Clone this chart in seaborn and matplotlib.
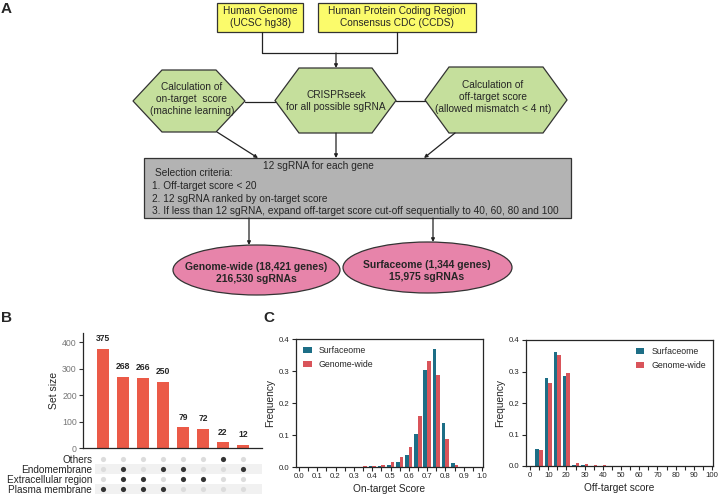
import numpy as np
import pandas as pd
import matplotlib
matplotlib.use("Agg")
import matplotlib.pyplot as plt
from matplotlib.patches import Polygon, Rectangle, Ellipse
import seaborn as sns

# ---------------- data ----------------
# Panel B (UpSet)
set_names = ["Others", "Endomembrane", "Extracellular region", "Plasma membrane"]
set_sizes = [375, 268, 266, 250, 79, 72, 22, 12]
combo_members = [
    ["Plasma membrane"],
    ["Endomembrane", "Extracellular region", "Plasma membrane"],
    ["Extracellular region", "Plasma membrane"],
    ["Endomembrane", "Plasma membrane"],
    ["Endomembrane", "Extracellular region"],
    ["Extracellular region"],
    ["Others"],
    ["Endomembrane"],
]

# Panel C left: on-target score
on_bins = [0.35, 0.40, 0.45, 0.50, 0.55, 0.60, 0.65, 0.70, 0.75, 0.80, 0.85]
on_surface = [0.001, 0.002, 0.004, 0.007, 0.016, 0.036, 0.104, 0.304, 0.370, 0.136, 0.013]
on_genome = [0.002, 0.004, 0.007, 0.015, 0.030, 0.064, 0.158, 0.330, 0.287, 0.086, 0.007]

# Panel C right: off-target score
off_bins = [5, 10, 15, 20, 25, 30, 35, 40, 45, 50, 55, 60, 65, 70, 75, 80, 85, 90, 95, 100]
off_surface = [0.055, 0.280, 0.361, 0.286, 0.003, 0.002, 0.001, 0.001, 0.0005, 0.0005,
               0.0005, 0.0005, 0.0004, 0.0004, 0.0004, 0.0003, 0.0003, 0.0003, 0.0003, 0.0003]
off_genome = [0.050, 0.262, 0.351, 0.295, 0.008, 0.005, 0.003, 0.002, 0.001, 0.001,
              0.0008, 0.0007, 0.0006, 0.0006, 0.0005, 0.0005, 0.0004, 0.0004, 0.0004, 0.0004]
series_names = ["Surfaceome", "Genome-wide"]

# Panel A texts
box1_text = "Human Genome\n(UCSC hg38)"
box2_text = "Human Protein Coding Region\nConsensus CDC (CCDS)"
hex_left_text = "Calculation of\non-target  score\n(machine learning)"
hex_mid_text = "CRISPRseek\nfor all possible sgRNA"
hex_right_text = "Calculation of\noff-target score\n(allowed mismatch < 4 nt)"
gray_title = "12 sgRNA for each gene"
gray_lines = ["Selection criteria:",
              "1. Off-target score < 20",
              "2. 12 sgRNA ranked by on-target score",
              "3. If less than 12 sgRNA, expand off-target score cut-off sequentially to 40, 60, 80 and 100"]
ell_left_text = "Genome-wide (18,421 genes)\n216,530 sgRNAs"
ell_right_text = "Surfaceome (1,344 genes)\n15,975 sgRNAs"

# ---------------- style ----------------
sns.set_theme(style="ticks")
plt.rcParams["font.family"] = ["Liberation Sans", "DejaVu Sans"]
plt.rcParams["axes.linewidth"] = 0.9
plt.rcParams["xtick.major.width"] = 0.8
plt.rcParams["ytick.major.width"] = 0.8
plt.rcParams["xtick.minor.width"] = 0.8

W, H = 721, 497
fig = plt.figure(figsize=(W / 100, H / 100), dpi=100)
fig.patch.set_facecolor("white")


def rect(x0, y0, x1, y1):
    return [x0 / W, 1 - y1 / H, (x1 - x0) / W, (y1 - y0) / H]


# ---------------- Panel A (flowchart) ----------------
ax0 = fig.add_axes([0, 0, 1, 1])
ax0.set_xlim(0, W)
ax0.set_ylim(H, 0)
ax0.axis("off")

YELLOW = "#fbfb6b"
GREEN = "#c5df9c"
GRAY = "#b3b3b3"
PINK = "#e784aa"
EDGE = "#333333"
fs = 7.3

ax0.add_patch(Rectangle((217, 3), 86, 29, facecolor=YELLOW, edgecolor=EDGE, lw=0.9))
ax0.add_patch(Rectangle((318, 3), 158, 29, facecolor=YELLOW, edgecolor=EDGE, lw=0.9))
ax0.text(260, 17.5, box1_text, ha="center", va="center", fontsize=fs, linespacing=1.25)
ax0.text(397, 17.5, box2_text, ha="center", va="center", fontsize=fs, linespacing=1.25)

lc = "#222222"
ax0.plot([262, 262, 397, 397], [32, 53, 53, 32], color=lc, lw=0.9)


def arrow(p0, p1):
    ax0.annotate("", xy=p1, xytext=p0,
                 arrowprops=dict(arrowstyle="-|>", color=lc, lw=0.9,
                                 mutation_scale=5, shrinkA=0, shrinkB=0))


arrow((336, 53), (336, 68))


def hexagon(cx, cy, w, h, inset, **kw):
    pts = [(cx - w / 2, cy), (cx - w / 2 + inset, cy - h / 2), (cx + w / 2 - inset, cy - h / 2),
           (cx + w / 2, cy), (cx + w / 2 - inset, cy + h / 2), (cx - w / 2 + inset, cy + h / 2)]
    ax0.add_patch(Polygon(pts, closed=True, **kw))


# hex connectors
ax0.plot([245, 275], [101.5, 101.5], color=lc, lw=0.9)
ax0.plot([396, 425], [100.5, 100.5], color=lc, lw=0.9)

hexagon(189, 101, 112, 62, 29, facecolor=GREEN, edgecolor=EDGE, lw=0.9)
hexagon(335.5, 100.5, 121, 65, 24, facecolor=GREEN, edgecolor=EDGE, lw=0.9)
hexagon(496, 100, 142, 66, 24, facecolor=GREEN, edgecolor=EDGE, lw=0.9)
ax0.text(192, 98.5, hex_left_text, ha="center", va="center", fontsize=fs, linespacing=1.25)
ax0.text(336, 100.5, hex_mid_text, ha="center", va="center", fontsize=fs, linespacing=1.25)
ax0.text(493, 97, hex_right_text, ha="center", va="center", fontsize=fs, linespacing=1.25)

arrow((217, 132), (258, 158))
arrow((336, 133), (336, 158))
arrow((455, 133), (424, 158))

ax0.add_patch(Rectangle((144, 158), 427, 60, facecolor=GRAY, edgecolor=EDGE, lw=0.9))
ax0.text(263, 166, gray_title, ha="left", va="center", fontsize=fs)
for i, (ln, yy) in enumerate(zip(gray_lines, [173.5, 186, 198.5, 211])):
    ax0.text(155 if i == 0 else 152, yy, ln, ha="left", va="center", fontsize=fs)

arrow((249, 218), (249, 245))
arrow((433, 218), (433, 242))

ax0.add_patch(Ellipse((256.5, 270), 167, 50, facecolor=PINK, edgecolor=EDGE, lw=0.9))
ax0.add_patch(Ellipse((427.5, 267.5), 169, 51, facecolor=PINK, edgecolor=EDGE, lw=0.9))
ax0.text(256, 273, ell_left_text, ha="center", va="center", fontsize=7.5,
         fontweight="bold", linespacing=1.2)
ax0.text(427, 271, ell_right_text, ha="center", va="center", fontsize=7.5,
         fontweight="bold", linespacing=1.2)

# Panel letters
ax0.text(1, 2, "A", ha="left", va="top", fontsize=11, fontweight="bold")
ax0.text(1, 311, "B", ha="left", va="top", fontsize=11, fontweight="bold")
ax0.text(263, 311, "C", ha="left", va="top", fontsize=11, fontweight="bold")

# ---------------- Panel B (UpSet) ----------------
BAR_RED = "#eb5a47"
combo_ids = [f"c{i}" for i in range(len(set_sizes))]
axb = fig.add_axes(rect(83, 333, 262, 448))
sns.barplot(x=combo_ids, y=set_sizes, color=BAR_RED, width=0.6, linewidth=0,
            errorbar=None, ax=axb, saturation=1)
axb.set_xlim(-1.0, 7.95)
axb.set_ylim(0, 434)
axb.set_yticks([0, 100, 200, 300, 400])
axb.set_xticks([])
axb.tick_params(axis="y", labelsize=6.3, labelcolor="#777777", length=3, color="#333333", pad=1.5)
axb.set_ylabel("Set size", fontsize=7.5, labelpad=2)
sns.despine(ax=axb)
axb.bar_label(axb.containers[0], fontsize=6.2, fontweight="bold", padding=4)

# matrix
axm = fig.add_axes(rect(95, 454, 262, 494))
mat_rows = []
for ci, mem in enumerate(combo_members):
    for ri, nm in enumerate(set_names):
        mat_rows.append({"col": ci, "row": ri, "present": nm in mem})
mat_df = pd.DataFrame(mat_rows)
for ri in [1, 3]:
    axm.axhspan(ri - 0.5, ri + 0.5, color="#f1f1f1", zorder=0, lw=0)
sns.scatterplot(data=mat_df[~mat_df.present], x="col", y="row", color="#dcdcdc",
                s=14, linewidth=0, ax=axm, zorder=2)
sns.scatterplot(data=mat_df[mat_df.present], x="col", y="row", color="#333333",
                s=14, linewidth=0, ax=axm, zorder=3)
axm.set_xlim(-0.4, 7.95)
axm.set_ylim(3.5, -0.5)
axm.set_yticks(range(len(set_names)))
axm.set_yticklabels(set_names)
axm.tick_params(axis="y", length=0, labelsize=7.2, pad=2)
axm.set_xticks([])
axm.set_xlabel("")
axm.set_ylabel("")
for s in axm.spines.values():
    s.set_visible(False)
axm.patch.set_alpha(0)

# ---------------- Panel C ----------------
TEAL = "#1d6e86"
CRED = "#d9545a"


def long_df(bins, a, b):
    return pd.DataFrame({
        "score": list(bins) + list(bins),
        "freq": list(a) + list(b),
        "set": [series_names[0]] * len(bins) + [series_names[1]] * len(bins),
    })


def style_c(ax, xlabel):
    ax.set_ylim(0, 0.4)
    ax.set_yticks([0.0, 0.1, 0.2, 0.3, 0.4])
    ax.set_yticklabels(["0.0", "0.1", "0.2", "0.3", "0.4"])
    ax.tick_params(axis="both", which="major", labelsize=5.6, length=3, pad=1.5)
    ax.tick_params(axis="x", which="minor", length=3)
    ax.set_xlabel(xlabel, fontsize=7.3, labelpad=3)
    ax.set_ylabel("Frequency", fontsize=7.3, labelpad=3)
    for s in ax.spines.values():
        s.set_visible(True)
        s.set_linewidth(0.9)
    leg = ax.get_legend()
    if leg is not None:
        leg.remove()


axc1 = fig.add_axes(rect(296, 339, 483, 467))
sns.barplot(data=long_df(on_bins, on_surface, on_genome), x="score", y="freq", hue="set",
            hue_order=series_names, palette=[TEAL, CRED], native_scale=True, width=0.8,
            errorbar=None, linewidth=0, saturation=1, ax=axc1)
style_c(axc1, "On-target Score")
axc1.set_xlim(-0.016, 1.005)
axc1.set_xticks(np.round(np.arange(0, 1.01, 0.1), 1))
axc1.set_xticklabels([f"{v:.1f}" for v in np.arange(0, 1.01, 0.1)])
axc1.set_xticks(np.arange(0.05, 1.0, 0.1), minor=True)
axc1.legend(frameon=False, loc="upper left", fontsize=6.3, handlelength=1.0,
            handleheight=0.7, handletextpad=0.8, borderaxespad=0.4, labelspacing=0.6)

axc2 = fig.add_axes(rect(526, 340, 713, 466))
sns.barplot(data=long_df(off_bins, off_surface, off_genome), x="score", y="freq", hue="set",
            hue_order=series_names, palette=[TEAL, CRED], native_scale=True, width=0.8,
            errorbar=None, linewidth=0, saturation=1, ax=axc2)
style_c(axc2, "Off-target score")
axc2.set_xlim(-2.2, 100.5)
axc2.set_xticks(range(0, 101, 10))
axc2.set_xticklabels([str(v) for v in range(0, 101, 10)])
axc2.set_xticks(range(5, 100, 10), minor=True)
axc2.legend(frameon=False, loc="upper right", fontsize=6.3, handlelength=1.0,
            handleheight=0.7, handletextpad=0.8, borderaxespad=0.4, labelspacing=0.6)

fig.savefig("out.png", dpi=100)
